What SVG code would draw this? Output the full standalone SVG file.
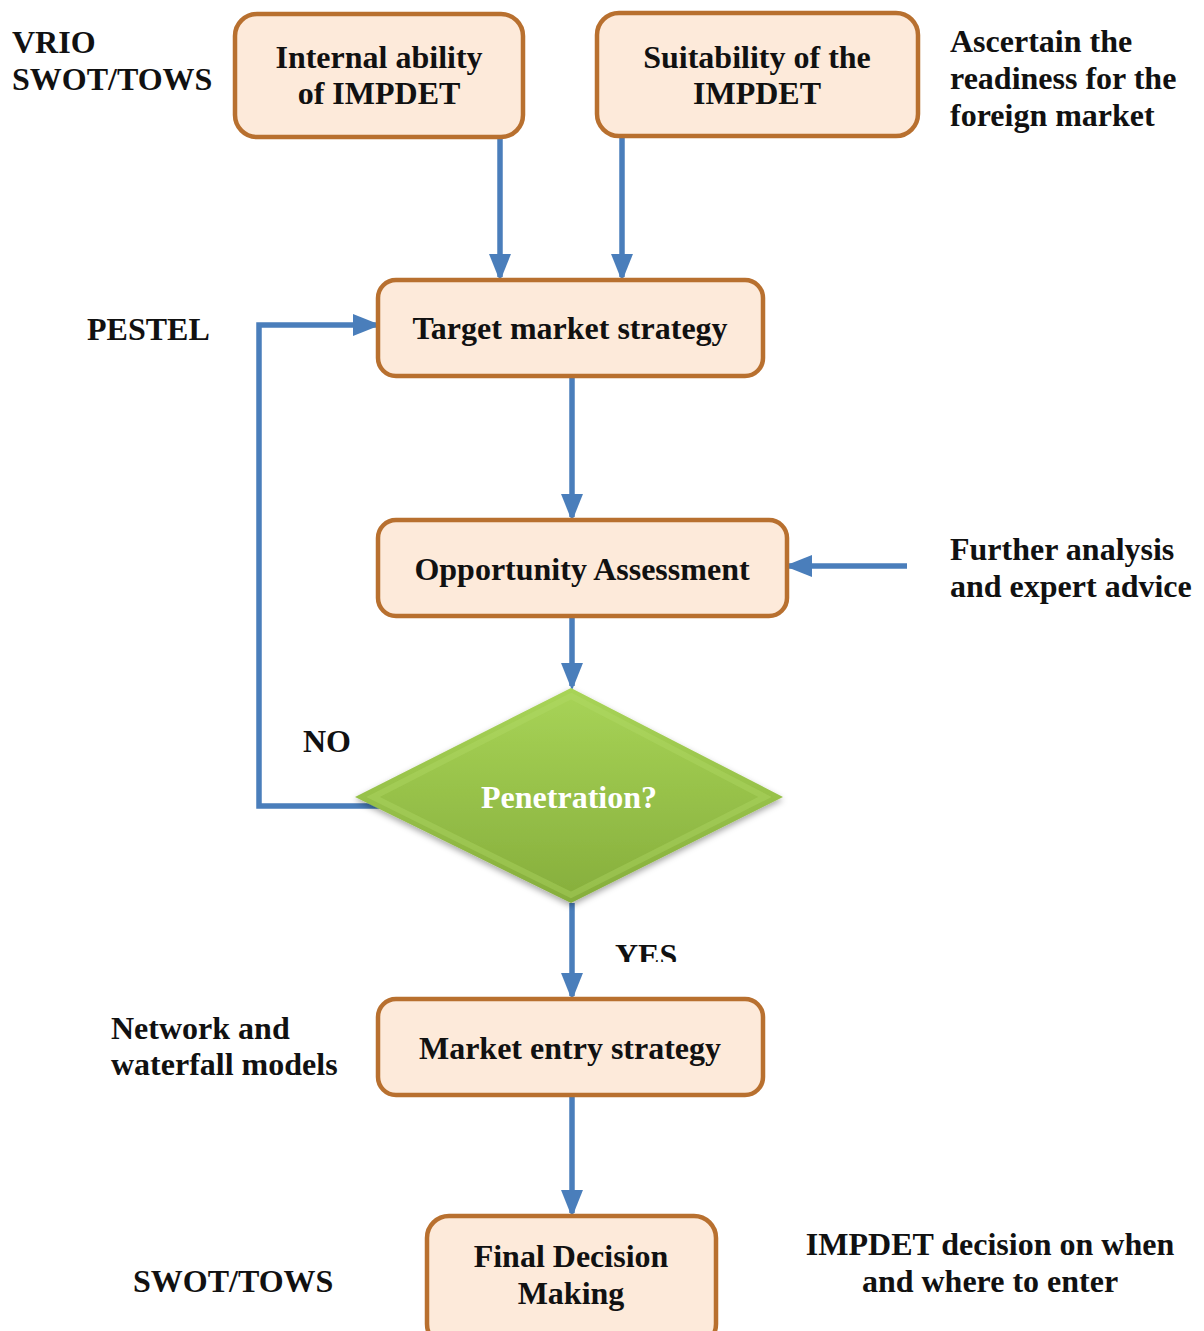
<svg xmlns="http://www.w3.org/2000/svg" width="1204" height="1331" viewBox="0 0 1204 1331">
<style>
.box{fill:#FDEADA;stroke:#B8702F;stroke-width:4.5}
.t{font-family:"Liberation Serif","Times New Roman",serif;font-weight:bold;font-size:32px;fill:#111}
.c{text-anchor:middle}
.ln{fill:none;stroke:#4A7EBB;stroke-width:5.5}
</style>
<defs>
<marker id="ah" markerWidth="5" markerHeight="4" refX="4.2" refY="2" orient="auto" markerUnits="strokeWidth">
<path d="M0,0 L5,2 L0,4 z" fill="#4A7EBB"/>
</marker>
<linearGradient id="gd" x1="0" y1="0" x2="0" y2="1">
<stop offset="0" stop-color="#A8D457"/>
<stop offset="1" stop-color="#86AE3C"/>
</linearGradient>
<filter id="sh" x="-10%" y="-10%" width="120%" height="130%">
<feDropShadow dx="0" dy="3" stdDeviation="3" flood-color="#000" flood-opacity="0.35"/>
</filter>
<clipPath id="yesclip"><rect x="600" y="930" width="100" height="32"/></clipPath>
</defs>

<g id="connectors">
<line class="ln" x1="500" y1="137" x2="500" y2="277" marker-end="url(#ah)"/>
<line class="ln" x1="622" y1="136" x2="622" y2="277" marker-end="url(#ah)"/>
<line class="ln" x1="572" y1="376" x2="572" y2="517" marker-end="url(#ah)"/>
<line class="ln" x1="572" y1="616" x2="572" y2="686" marker-end="url(#ah)"/>
<line class="ln" x1="572" y1="903" x2="572" y2="996" marker-end="url(#ah)"/>
<line class="ln" x1="572" y1="1095" x2="572" y2="1213" marker-end="url(#ah)"/>
<polyline class="ln" points="380,806 259,806 259,325 376,325" marker-end="url(#ah)"/>
<line class="ln" x1="907" y1="566" x2="789" y2="566" marker-end="url(#ah)"/>
</g>

<g id="internal">
<rect class="box" x="235" y="14" width="288" height="123" rx="22"/>
<text class="t c" x="379" y="68">Internal ability</text>
<text class="t c" x="379" y="104">of IMPDET</text>
</g>
<g id="suitability">
<rect class="box" x="597" y="13" width="321" height="123" rx="22"/>
<text class="t c" x="757" y="68">Suitability of the</text>
<text class="t c" x="757" y="104">IMPDET</text>
</g>
<g id="target">
<rect class="box" x="378" y="280" width="385" height="96" rx="18"/>
<text class="t c" x="570" y="339">Target market strategy</text>
</g>
<g id="opportunity">
<rect class="box" x="378" y="520" width="409" height="96" rx="18"/>
<text class="t c" x="582" y="580">Opportunity Assessment</text>
</g>
<g id="penetration">
<polygon points="571,688 783,797 571,903 355,797" fill="url(#gd)" filter="url(#sh)"/>
<polygon points="571,696 765,797 571,895 373,797" fill="none" stroke="#B4DC6A" stroke-opacity="0.35" stroke-width="6"/>
<text class="t c" x="569" y="808" style="fill:#fff">Penetration?</text>
</g>
<g id="marketentry">
<rect class="box" x="378" y="999" width="385" height="96" rx="18"/>
<text class="t c" x="570" y="1059">Market entry strategy</text>
</g>
<g id="final">
<rect class="box" x="427" y="1216" width="289" height="130" rx="22"/>
<text class="t c" x="571" y="1267">Final Decision</text>
<text class="t c" x="571" y="1304">Making</text>
</g>

<g id="labels">
<text class="t" x="12" y="53">VRIO</text>
<text class="t" x="12" y="90">SWOT/TOWS</text>
<text class="t" x="950" y="52">Ascertain the</text>
<text class="t" x="950" y="89">readiness for the</text>
<text class="t" x="950" y="126">foreign market</text>
<text class="t" x="87" y="340">PESTEL</text>
<text class="t" x="950" y="560">Further analysis</text>
<text class="t" x="950" y="597">and expert advice</text>
<text class="t" x="303" y="752">NO</text>
<text class="t" x="615" y="966" clip-path="url(#yesclip)">YES</text>
<text class="t" x="111" y="1039">Network and</text>
<text class="t" x="111" y="1075">waterfall models</text>
<text class="t" x="133" y="1292">SWOT/TOWS</text>
<text class="t c" x="990" y="1255">IMPDET decision on when</text>
<text class="t c" x="990" y="1292">and where to enter</text>
</g>
</svg>
